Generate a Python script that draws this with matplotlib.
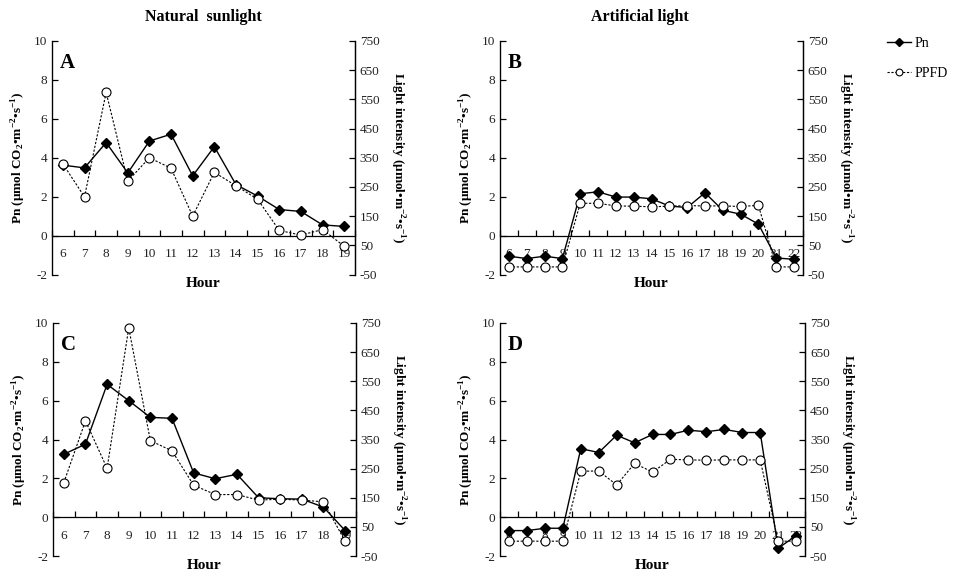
import numpy as np
import matplotlib.pyplot as plt

plt.rcParams['font.family'] = ['Liberation Serif', 'DejaVu Serif']
plt.rcParams['mathtext.fontset'] = 'custom'
plt.rcParams['mathtext.rm'] = 'Liberation Serif'
plt.rcParams['mathtext.bf'] = 'Liberation Serif:bold'
plt.rcParams['axes.unicode_minus'] = False

# Dane
hours_nat = list(range(6, 20))
hours_art = list(range(6, 23))

pn_A = [3.62, 3.48, 4.78, 3.22, 4.86, 5.21, 3.07, 4.57, 2.62, 2.03, 1.34, 1.24, 0.55, 0.47]
ppfd_A = [329, 216, 574, 270, 350, 314, 150, 300, 254, 208, 101, 85, 104, 47]

pn_B = [-1.06, -1.18, -1.06, -1.18, 2.15, 2.25, 1.98, 1.98, 1.89, 1.52, 1.44, 2.20, 1.30, 1.10, 0.59, -1.15, -1.22]
ppfd_B = [-24, -24, -24, -24, 194, 194, 185, 184, 182, 184, 186, 185, 185, 183, 187, -24, -24]

pn_C = [3.24, 3.76, 6.84, 6.00, 5.14, 5.09, 2.28, 1.98, 2.21, 1.00, 0.95, 0.93, 0.52, -0.69]
ppfd_C = [202, 414, 251, 733, 346, 311, 193, 161, 161, 142, 145, 142, 136, 1]

pn_D = [-0.69, -0.69, -0.57, -0.57, 3.53, 3.33, 4.22, 3.83, 4.26, 4.26, 4.48, 4.40, 4.52, 4.36, 4.36, -1.60, -0.95]
ppfd_D = [1, 1, 1, 1, 241, 242, 194, 268, 238, 282, 280, 279, 280, 280, 280, 1, 1]

pn_label = r'Pn (μmol CO$_\mathbf{2}$•m$^\mathbf{-2}$•s$^\mathbf{-1}$)'
light_label = r'Light intensity (μmol•m$^\mathbf{-2}$•s$^\mathbf{-1}$)'

fig = plt.figure(figsize=(9.55, 5.75), dpi=100)


def rysuj_panel(rect, hours, pn, ppfd, letter):
    ax = fig.add_axes(rect)
    l1, = ax.plot(hours, pn, '-', color='black', lw=1.0, marker='D', ms=5,
                  mfc='black', mec='black', label='Pn', zorder=3)
    ax.set_ylim(-2, 10)
    ax.set_yticks(range(-2, 11, 2))
    ax.set_xlim(hours[0] - 0.5, hours[-1] + 0.5)
    ax.set_xticks(hours)
    ax.set_xticks(np.arange(hours[0] - 0.5, hours[-1] + 1, 1), minor=True)
    ax.spines['bottom'].set_position(('data', 0))
    ax.spines['top'].set_visible(False)
    for s in ax.spines.values():
        s.set_linewidth(0.9)
    ax.tick_params(axis='x', which='major', length=0, pad=9, labelsize=9.5, labelcolor='#222222')
    ax.tick_params(axis='x', which='minor', length=4, direction='in', width=0.9)
    ax.tick_params(axis='y', direction='in', length=4, width=0.9, labelsize=9.5, labelcolor='#222222')
    ax.set_ylabel(pn_label, fontsize=9.5, fontweight='bold', labelpad=4)

    ax2 = ax.twinx()
    l2, = ax2.plot(hours, ppfd, linestyle=(0, (2, 1.5)), color='black', lw=0.8,
                   marker='o', ms=6.5, mfc='white', mec='black', mew=0.8, label='PPFD')
    ax2.set_ylim(-50, 750)
    ax2.set_yticks(range(-50, 751, 100))
    ax2.spines['bottom'].set_visible(False)
    ax2.spines['top'].set_visible(False)
    ax2.spines['right'].set_linewidth(0.9)
    ax2.tick_params(axis='y', direction='in', length=4, width=0.9, labelsize=9.5, labelcolor='#222222')
    ax2.set_ylabel(light_label, fontsize=9.5, fontweight='bold', rotation=270, labelpad=19)

    ax.text(0.5, -0.039, 'Hour', transform=ax.transAxes, ha='center', va='center',
            fontsize=11, fontweight='bold')
    ax.text(0.026, 0.905, letter, transform=ax.transAxes, ha='left', va='center',
            fontsize=15, fontweight='bold')
    return ax, l1, l2


axA, _, _ = rysuj_panel([0.0545, 0.5226, 0.3172, 0.4061], hours_nat, pn_A, ppfd_A, 'A')
axB, h1, h2 = rysuj_panel([0.5236, 0.5226, 0.3172, 0.4061], hours_art, pn_B, ppfd_B, 'B')
axC, _, _ = rysuj_panel([0.0555, 0.0330, 0.3172, 0.4053], hours_nat, pn_C, ppfd_C, 'C')
axD, _, _ = rysuj_panel([0.5236, 0.0330, 0.3194, 0.4053], hours_art, pn_D, ppfd_D, 'D')

axA.text(0.5, 1.103, 'Natural  sunlight', transform=axA.transAxes, ha='center', va='center',
         fontsize=11.5, fontweight='bold')
axB.text(0.46, 1.103, 'Artificial light', transform=axB.transAxes, ha='center', va='center',
         fontsize=11.5, fontweight='bold')

fig.legend(handles=[h1, h2], loc='upper left', bbox_to_anchor=(887 / 955, 1 - 37 / 575),
           frameon=False, fontsize=10, handlelength=1.75, handletextpad=0.25, markerscale=0.75,
           labelspacing=1.25, borderpad=0, borderaxespad=0)

fig.savefig('out.png', dpi=100)
